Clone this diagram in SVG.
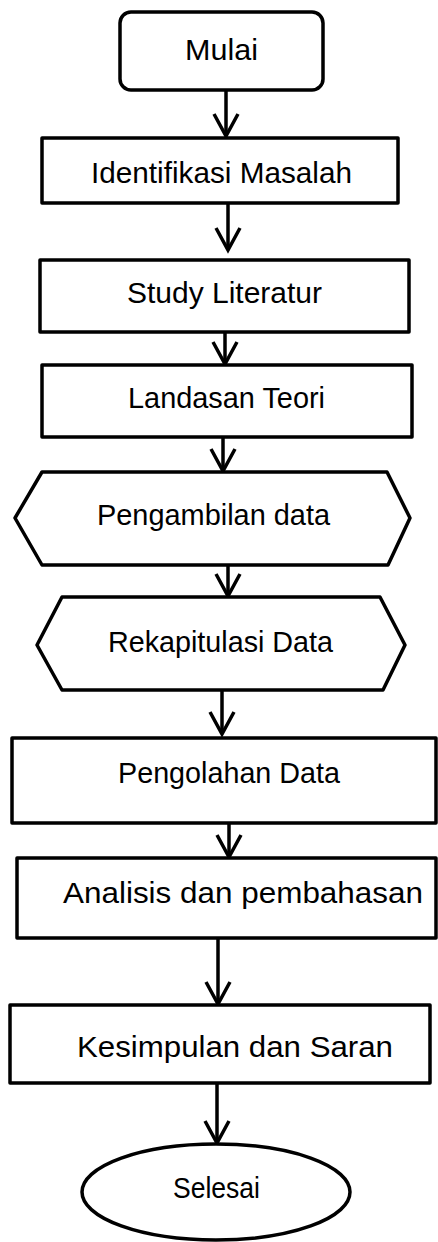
<svg xmlns="http://www.w3.org/2000/svg" width="438" height="1242" viewBox="0 0 438 1242">
<style>
.shape{fill:#fff;stroke:#000;stroke-width:3.5;stroke-linejoin:round}
.lbl{font-family:"Liberation Sans",Arial,sans-serif;font-size:29px;fill:#000;text-anchor:middle}
.conn{fill:none;stroke:#000;stroke-width:3.5}
</style>
<defs>
<marker id="arr" markerUnits="userSpaceOnUse" viewBox="-26 -16 30 32" markerWidth="30" markerHeight="32" refX="0" refY="0" orient="auto">
<path d="M -22 -12 L 0 0 L -22 12" fill="none" stroke="#000" stroke-width="3.5" stroke-linejoin="miter"/>
</marker>
</defs>
<rect width="438" height="1242" fill="#fff"/>
<g id="connectors">
<line class="conn" x1="226" y1="90" x2="226" y2="136" marker-end="url(#arr)"/>
<line class="conn" x1="228" y1="203" x2="228" y2="250" marker-end="url(#arr)"/>
<line class="conn" x1="225" y1="332" x2="225" y2="364" marker-end="url(#arr)"/>
<line class="conn" x1="223" y1="437" x2="223" y2="471" marker-end="url(#arr)"/>
<line class="conn" x1="228" y1="565" x2="228" y2="596" marker-end="url(#arr)"/>
<line class="conn" x1="222" y1="690" x2="222" y2="734" marker-end="url(#arr)"/>
<line class="conn" x1="229" y1="823" x2="229" y2="857" marker-end="url(#arr)"/>
<line class="conn" x1="218" y1="938" x2="218" y2="1004" marker-end="url(#arr)"/>
<line class="conn" x1="217" y1="1083" x2="217" y2="1143" marker-end="url(#arr)"/>
</g>
<g id="mulai">
<rect class="shape" x="120" y="12" width="203" height="78" rx="11"/>
<text class="lbl" x="221.5" y="60" textLength="73" lengthAdjust="spacingAndGlyphs">Mulai</text>
</g>
<g id="identifikasi">
<rect class="shape" x="42" y="138" width="356" height="65"/>
<text class="lbl" x="221.5" y="183" textLength="261" lengthAdjust="spacingAndGlyphs">Identifikasi Masalah</text>
</g>
<g id="study">
<rect class="shape" x="40" y="260" width="369" height="72"/>
<text class="lbl" x="224.5" y="303" textLength="195" lengthAdjust="spacingAndGlyphs">Study Literatur</text>
</g>
<g id="landasan">
<rect class="shape" x="42" y="365" width="370" height="72"/>
<text class="lbl" x="226.5" y="408" textLength="197" lengthAdjust="spacingAndGlyphs">Landasan Teori</text>
</g>
<g id="pengambilan">
<polygon class="shape" points="42,472 387,472 410,518 388,565 42,565 15,518"/>
<text class="lbl" x="213.5" y="525" textLength="233" lengthAdjust="spacingAndGlyphs">Pengambilan data</text>
</g>
<g id="rekapitulasi">
<polygon class="shape" points="62,597 380,597 405,645 383,690 62,690 37,645"/>
<text class="lbl" x="220.5" y="652" textLength="225" lengthAdjust="spacingAndGlyphs">Rekapitulasi Data</text>
</g>
<g id="pengolahan">
<rect class="shape" x="12" y="738" width="424" height="85"/>
<text class="lbl" x="229" y="783" textLength="222" lengthAdjust="spacingAndGlyphs">Pengolahan Data</text>
</g>
<g id="analisis">
<rect class="shape" x="17" y="858" width="419" height="80"/>
<text class="lbl" x="243" y="903" textLength="360" lengthAdjust="spacingAndGlyphs">Analisis dan pembahasan</text>
</g>
<g id="kesimpulan">
<rect class="shape" x="10" y="1005" width="420" height="78"/>
<text class="lbl" x="235" y="1057" textLength="316" lengthAdjust="spacingAndGlyphs">Kesimpulan dan Saran</text>
</g>
<g id="selesai">
<ellipse class="shape" cx="216" cy="1192" rx="134" ry="48"/>
<text class="lbl" x="216.5" y="1198" textLength="87" lengthAdjust="spacingAndGlyphs">Selesai</text>
</g>
</svg>
